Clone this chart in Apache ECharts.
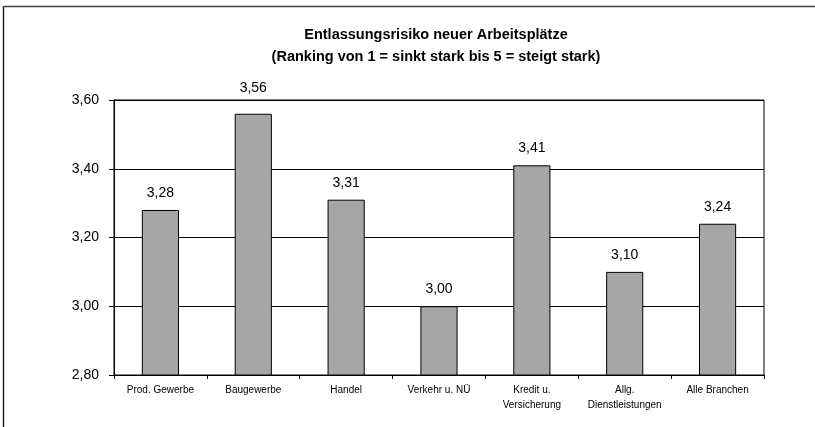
<!DOCTYPE html>
<html><head><meta charset="utf-8">
<script src="https://cdn.jsdelivr.net/npm/echarts@6/dist/echarts.min.js"></script>
<style>html,body{margin:0;padding:0;background:#fff}#c{width:815px;height:427px}</style>
</head><body><div id="c"></div>
<script>
var categories = ['Prod. Gewerbe', 'Baugewerbe', 'Handel', 'Verkehr u. NÜ', 'Kredit u.\nVersicherung', 'Allg.\nDienstleistungen', 'Alle Branchen'];
var values = [3.28, 3.56, 3.31, 3.00, 3.41, 3.10, 3.24];
var titleText = 'Entlassungsrisiko neuer Arbeitsplätze\n(Ranking von 1 = sinkt stark bis 5 = steigt stark)';
var fmt = function (v) { return Number(v).toFixed(2).replace('.', ','); };
var chart = echarts.init(document.getElementById('c'));
var barData = values.map(function (v, i) {
  return i === 1 ? { value: v, label: { distance: 19 } } : v;
});
chart.setOption({
  animation: false,
  backgroundColor: '#fff',
  title: {
    text: titleText, left: 431, top: 19, textAlign: 'center',
    textStyle: { fontFamily: 'Liberation Sans, Arial', fontSize: 14.5, fontWeight: 'bold', color: '#000', lineHeight: 22 }
  },
  graphic: [
    { type: 'line', shape: { x1: 3.5, y1: 6.5, x2: 815, y2: 6.5 }, style: { stroke: '#444', lineWidth: 1.5 } },
    { type: 'line', shape: { x1: 3.5, y1: 6.5, x2: 3.5, y2: 427 }, style: { stroke: '#222', lineWidth: 1.5 } }
  ],
  grid: { left: 114, right: 51, top: 100, bottom: 52, show: true, borderColor: '#000', borderWidth: 1 },
  xAxis: {
    type: 'category', data: categories,
    axisLine: { lineStyle: { color: '#000' } },
    axisTick: { show: true, length: 4, lineStyle: { color: '#000' } },
    axisLabel: { interval: 0, fontFamily: 'Liberation Sans, Arial', fontSize: 10, color: '#000', margin: 8, lineHeight: 15 }
  },
  yAxis: {
    type: 'value', min: 2.8, max: 3.6, interval: 0.2,
    axisLine: { show: true, lineStyle: { color: '#000' } },
    axisTick: { show: true, length: 5, lineStyle: { color: '#000' } },
    splitLine: { lineStyle: { color: '#000' } },
    axisLabel: { formatter: fmt, fontFamily: 'Liberation Sans, Arial', fontSize: 14, color: '#000', margin: 15 }
  },
  series: [{
    type: 'bar', data: barData, barWidth: '40%',
    itemStyle: { color: '#A6A6A6', borderColor: '#000', borderWidth: 1 },
    label: { show: true, position: 'top', distance: 10, formatter: function (p) { return fmt(p.value); },
      fontFamily: 'Liberation Sans, Arial', fontSize: 14, color: '#000' }
  }]
});
</script></body></html>
